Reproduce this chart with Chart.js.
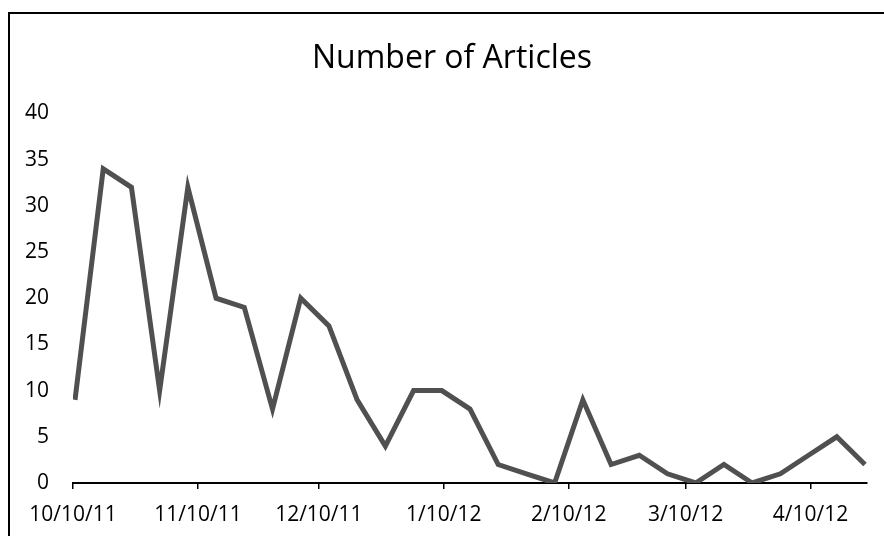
<!DOCTYPE html>
<html>
<head>
<meta charset="utf-8">
<script src="https://cdn.jsdelivr.net/npm/chart.js@4"></script>
<style>
  html, body { margin: 0; padding: 0; background: #fff; overflow: hidden; }
  #wrap { position: relative; width: 884px; height: 536px; }
  #frame { position: absolute; left: 8px; top: 12px; width: 900px; height: 600px;
           border: 2px solid #000; box-sizing: border-box; pointer-events: none; }
</style>
</head>
<body>
<div id="wrap">
  <canvas id="myChart" width="884" height="536"></canvas>
  <div id="frame"></div>
</div>
<script>
// weekly counts
const dates = [
  '2011-10-10', '2011-10-17', '2011-10-24', '2011-10-31', '2011-11-07', '2011-11-14',
  '2011-11-21', '2011-11-28', '2011-12-05', '2011-12-12', '2011-12-19', '2011-12-26',
  '2012-01-02', '2012-01-09', '2012-01-16', '2012-01-23', '2012-01-30', '2012-02-06',
  '2012-02-13', '2012-02-20', '2012-02-27', '2012-03-05', '2012-03-12', '2012-03-19',
  '2012-03-26', '2012-04-02', '2012-04-09', '2012-04-16', '2012-04-23'
];
const articles = [9, 34, 32, 10, 32, 20, 19, 8, 20, 17, 9, 4, 10, 10, 8, 2, 1, 0, 9, 2, 3, 1, 0, 2, 0, 1, 3, 5, 2];

const tickDates = ['2011-10-10', '2011-11-10', '2011-12-10', '2012-01-10', '2012-02-10', '2012-03-10', '2012-04-10'];
const tickLabels = ['10/10/11', '11/10/11', '12/10/11', '1/10/12', '2/10/12', '3/10/12', '4/10/12'];
const axisEnd = '2012-04-24';

const DAY = 86400000;
const start = Date.parse(dates[0]);
function dayOf(d) { return Math.round((Date.parse(d) - start) / DAY); }

// excel puts the point in the middle of its day
const points = dates.map((d, i) => ({ x: dayOf(d) + 0.5, y: articles[i] }));
const tickDays = tickDates.map(dayOf);

const font = "'Open Sans', sans-serif";

function createChart(ref) {
  return new Chart(ref, {
    type: 'line',
    data: {
      datasets: [{
        label: 'Number of Articles',
        data: points,
        borderColor: 'rgb(80, 80, 80)',
        borderWidth: 5,
        borderJoinStyle: 'miter',
        pointRadius: 0,
        tension: 0,
        fill: false
      }]
    },
    options: {
      responsive: false,
      animation: false,
      devicePixelRatio: 1,
      // left padding pushes the title centre right a bit
      layout: { padding: { left: 20, right: 0, top: 0, bottom: 0 } },
      plugins: {
        legend: { display: false },
        tooltip: { enabled: false },
        title: {
          display: true,
          text: 'Number of Articles',
          color: '#000',
          font: { family: font, size: 32, weight: 'normal', lineHeight: 1.2 },
          padding: { top: 40, bottom: 35 }
        }
      },
      scales: {
        x: {
          type: 'linear',
          min: 0,
          max: dayOf(axisEnd),
          afterBuildTicks: (scale) => { scale.ticks = tickDays.map(v => ({ value: v })); },
          afterFit: (scale) => { scale.height = 53; },
          grid: { drawOnChartArea: false, drawTicks: true, tickLength: 6, color: '#000', lineWidth: 1.5 },
          border: { display: true, color: '#000', width: 2 },
          ticks: {
            autoSkip: false,
            maxRotation: 0,
            padding: 13,
            color: '#000',
            font: { family: font, size: 21 },
            callback: (v) => tickLabels[tickDays.indexOf(v)]
          }
        },
        y: {
          min: 0,
          max: 40,
          afterFit: (scale) => { scale.width = 53; },
          grid: { display: false, drawTicks: false },
          border: { display: false },
          ticks: {
            stepSize: 5,
            padding: 24,
            color: '#000',
            font: { family: font, size: 21 }
          }
        },
        // empty spacer on the right so the plot stops where excel's does
        yRight: {
          position: 'right',
          min: 0,
          max: 40,
          afterFit: (scale) => { scale.width = 17; },
          grid: { display: false, drawTicks: false },
          border: { display: false },
          ticks: { display: false }
        }
      }
    }
  });
}

createChart(document.getElementById('myChart').getContext('2d'));
</script>
</body>
</html>
